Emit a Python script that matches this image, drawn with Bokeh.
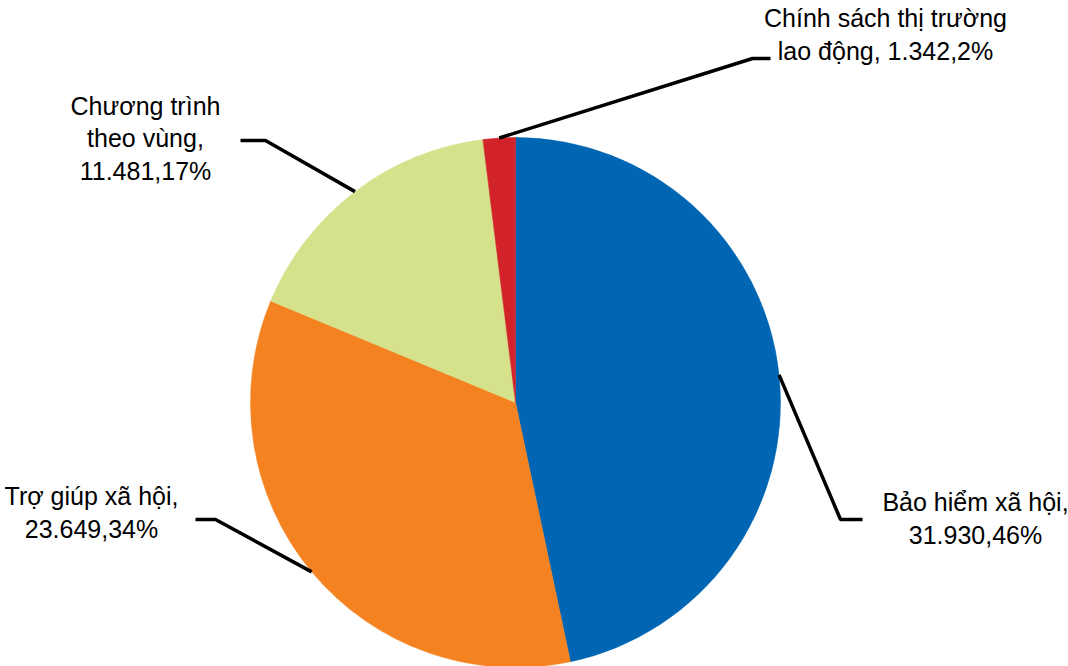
import math
from bokeh.plotting import figure
from bokeh.models import Range1d, ColumnDataSource
from bokeh.core.properties import value
from bokeh.embed import file_html
from bokeh.resources import INLINE

# ---- data ----
categories = ["Bảo hiểm xã hội", "Trợ giúp xã hội", "Chương trình theo vùng", "Chính sách thị trường lao động"]
amounts = [31930, 23649, 11481, 1342]
amount_labels = ["31.930", "23.649", "11.481", "1.342"]
pct_labels = ["46%", "34%", "17%", "2%"]
label_texts = [
    "Bảo hiểm xã hội,\n31.930,46%",
    "Trợ giúp xã hội,\n23.649,34%",
    "Chương trình\ntheo vùng,\n11.481,17%",
    "Chính sách thị trường\nlao động, 1.342,2%",
]
colors = ["#0066B3", "#F58220", "#D5E28B", "#D2232A"]

W, H = 1068, 666
CX, CY, R = 515, H - 402, 265

# layout: elbow and end of leader (screen px), text centre
elbows = [(840, 519), (215, 519), (265, 140), (752, 58)]
ends = [(862, 519), (195, 519), (240, 140), (770, 58)]
text_pos = [(975, 518), (91, 512), (145, 138), (885, 34)]

total = sum(amounts)
starts, stops, mids = [], [], []
cum = 0.0
for a in amounts:
    s = math.pi / 2 - 2 * math.pi * cum / total
    cum += a
    e = math.pi / 2 - 2 * math.pi * cum / total
    starts.append(s)
    stops.append(e)
    mids.append((s + e) / 2)

p = figure(width=W, height=H, output_backend="svg", toolbar_location=None,
           x_range=Range1d(0, W), y_range=Range1d(0, H), min_border=0)
p.axis.visible = False
p.grid.visible = False
p.outline_line_color = None
p.background_fill_color = "white"
p.border_fill_color = "white"

src = ColumnDataSource(dict(start=starts, end=stops, color=colors, cat=categories))
p.wedge(x=CX, y=CY, radius=R, start_angle="start", end_angle="end", direction="clock",
        fill_color="color", line_color="color", line_width=0.5, source=src)

for i in range(len(amounts)):
    m = mids[i]
    px = CX + R * math.cos(m)
    py = CY + R * math.sin(m)
    ex, ey = elbows[i]
    fx, fy = ends[i]
    p.line([px, ex, fx], [py, H - ey, H - fy], line_color="black", line_width=3.5)

p.text(x=[t[0] for t in text_pos], y=[H - t[1] for t in text_pos], text=label_texts,
       text_align="center", text_baseline="middle", text_font=value("Liberation Sans"),
       text_font_size="25px", text_color="black", text_line_height=1.17)

open("out.html", "w").write(file_html(p, INLINE))
